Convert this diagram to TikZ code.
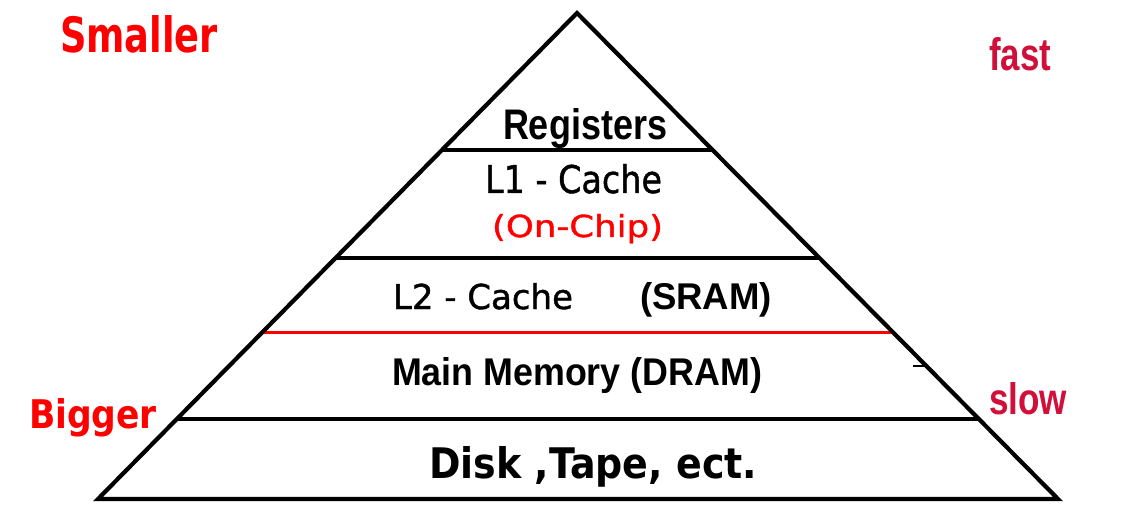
\documentclass[tikz,border=0pt]{standalone}
\usepackage{graphicx}
\usepackage{fontspec}
\usetikzlibrary{calc}
\newfontfamily\comicf{DejaVu Sans}
\newfontfamily\comicm{DejaVu Sans}[FakeBold=1.2]
\newfontfamily\arialf{Liberation Sans}
\definecolor{crim}{RGB}{208,16,58}
\newcommand{\fitt}[3]{\resizebox{#1pt}{#2pt}{#3}}
\begin{document}
\begin{tikzpicture}[x=1pt,y=-1pt,
  lbl/.style={inner sep=0pt, outer sep=0pt, anchor=base west},
  side/.style={line width=4.2pt, line join=miter, black},
  level/.style={line width=3.6pt, black},
  redlevel/.style={line width=3pt, red}]
\useasboundingbox (0,0) rectangle (1134,526);
\fill[white] (0,0) rectangle (1134,526);
% corners
\coordinate (apex) at (577,13);
\coordinate (bl) at (98,499);
\coordinate (br) at (1058,499);
% level end points
\coordinate (l1) at ($(apex)!0.2819!(bl)$);
\coordinate (r1) at ($(apex)!0.2819!(br)$);
\coordinate (l2) at ($(apex)!0.5041!(bl)$);
\coordinate (r2) at ($(apex)!0.5041!(br)$);
\coordinate (l3) at ($(apex)!0.6564!(bl)$);
\coordinate (r3) at ($(apex)!0.6564!(br)$);
\coordinate (l4) at ($(apex)!0.8354!(bl)$);
\coordinate (r4) at ($(apex)!0.8354!(br)$);
\draw[level] (l1) -- (r1);
\draw[level] (l2) -- (r2);
\draw[redlevel] (l3) -- (r3);
\draw[level] (l4) -- (r4);
\coordinate (tickA) at (913,366);
\coordinate (tickB) at (924,366);
\draw[line width=1.5pt] (tickA) -- (tickB);
\draw[side] (bl) -- (apex) -- (br) -- cycle;
% side labels
\node[lbl, text=red] (smaller) at (60,53) {\fitt{158}{37}{\comicf\bfseries Smaller}};
\node[lbl, text=red] (bigger) at (29,428) {\fitt{128}{30}{\comicf\bfseries Bigger}};
\node[lbl, text=crim] (fast) at (989,71) {\fitt{62}{33}{\arialf\bfseries fast}};
\node[lbl, text=crim] (slow) at (989,414) {\fitt{78}{32}{\arialf\bfseries slow}};
% level labels
\node[lbl] (reg) at (503,140) {\fitt{164}{31}{\arialf\bfseries Registers}};
\node[lbl] (l1c) at (485,193) {\fitt{177}{29}{\comicm L1 - Cache}};
\node[lbl, text=red] (onchip) at (492,237) {\fitt{171}{23}{\comicm (On-Chip)}};
\node[lbl] (l2c) at (393,309) {\fitt{180}{26}{\comicm L2 - Cache}};
\node[lbl] (sram) at (640,309) {\fitt{132}{27}{\arialf\bfseries (SRAM)}};
\node[lbl] (mm) at (392,385) {\fitt{370}{28}{\arialf\bfseries Main Memory (DRAM)}};
\node[lbl] (disk) at (429,478) {\fitt{328}{32}{\comicf\bfseries Disk ,Tape, ect.}};
\end{tikzpicture}
\end{document}
